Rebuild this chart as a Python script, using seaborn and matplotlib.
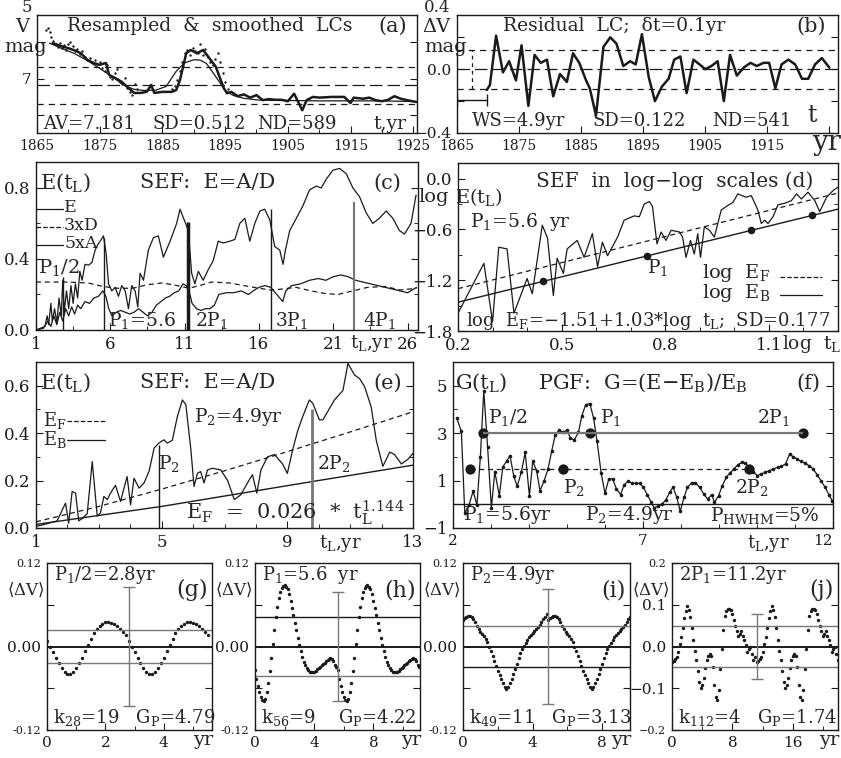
import numpy as np
import pandas as pd
import seaborn as sns
import matplotlib.pyplot as plt

sns.set_theme(style='ticks')
plt.rcParams['font.family'] = ['DejaVu Serif']
plt.rcParams['mathtext.fontset'] = 'dejavuserif'

# ---------------- data ----------------
# (a) resampled (dots), resampled+binned (thick) and smoothed (thin) light curves, V mag
a_dots = [(1866.4, 5.66), (1866.7, 5.60), (1867.0, 5.72), (1867.3, 5.86), (1867.6, 5.95), (1868.0, 6.05),
          (1868.3, 6.12), (1868.6, 6.02), (1869.0, 6.15), (1869.3, 6.08), (1869.7, 6.20), (1870.0, 6.05),
          (1870.3, 5.98), (1870.7, 6.10), (1871.0, 6.25), (1871.4, 6.18), (1871.8, 6.33), (1872.2, 6.25),
          (1872.6, 6.40), (1873.0, 6.48), (1873.4, 6.42), (1873.8, 6.55), (1874.2, 6.50), (1874.6, 6.60),
          (1875.0, 6.55), (1875.4, 6.70), (1875.8, 6.80), (1876.2, 6.62), (1876.6, 6.95), (1877.0, 7.02),
          (1877.4, 6.85), (1877.8, 6.75), (1878.2, 7.10), (1878.6, 7.15), (1879.0, 6.98), (1879.4, 7.25),
          (1879.8, 7.38), (1880.2, 7.45), (1880.6, 7.15), (1881.0, 7.30), (1886.6, 7.30), (1887.0, 7.22),
          (1887.4, 7.05), (1887.8, 6.80), (1888.2, 6.55), (1888.6, 6.30), (1889.0, 6.20), (1889.4, 6.35),
          (1889.8, 6.15), (1890.2, 6.25), (1890.6, 6.30), (1891.0, 6.05), (1891.4, 6.35), (1891.8, 6.18),
          (1892.2, 6.40), (1892.6, 6.55), (1893.0, 6.62), (1893.4, 6.45), (1893.8, 6.30), (1894.2, 6.55),
          (1894.6, 6.85), (1895.0, 7.10), (1895.4, 7.30)]
a_thick = [(1867.5, 6.02), (1869.0, 6.11), (1870.0, 6.16), (1871.0, 6.22), (1872.0, 6.30), (1873.0, 6.48),
           (1874.0, 6.57), (1875.0, 6.62), (1876.0, 6.57), (1876.5, 6.90), (1877.5, 6.99), (1878.5, 7.09),
           (1879.5, 7.25), (1880.5, 7.40), (1881.5, 7.40), (1882.5, 7.37), (1883.2, 7.18), (1883.7, 7.40),
           (1885.0, 7.37), (1886.5, 7.37), (1887.2, 7.32), (1887.8, 7.04), (1888.3, 6.67), (1888.8, 6.30),
           (1889.5, 6.21), (1890.5, 6.30), (1891.5, 6.21), (1892.5, 6.44), (1893.5, 6.67), (1894.3, 7.04),
           (1894.8, 7.27), (1895.3, 7.41), (1896.0, 7.37), (1897.0, 7.49), (1898.0, 7.44), (1899.0, 7.53),
           (1900.0, 7.46), (1901.0, 7.60), (1902.0, 7.57), (1903.0, 7.59), (1904.0, 7.59), (1905.0, 7.63),
           (1906.0, 7.42), (1907.3, 7.88), (1908.0, 7.60), (1909.0, 7.51), (1910.0, 7.53), (1912.0, 7.51),
           (1914.0, 7.51), (1915.0, 7.68), (1915.5, 7.53), (1917.0, 7.56), (1918.0, 7.53), (1919.0, 7.60),
           (1920.0, 7.63), (1921.0, 7.59), (1922.0, 7.49), (1923.0, 7.56), (1924.0, 7.60), (1925.5, 7.65)]
a_smooth = [(1867.0, 6.02), (1869.0, 6.17), (1871.0, 6.31), (1873.0, 6.50), (1875.0, 6.72), (1877.0, 6.95),
            (1879.0, 7.20), (1880.5, 7.30), (1882.0, 7.33), (1884.0, 7.32), (1885.6, 7.22), (1887.2, 6.80),
            (1888.5, 6.57), (1890.0, 6.48), (1891.0, 6.49), (1892.0, 6.58), (1893.0, 6.82), (1894.1, 7.10),
            (1895.0, 7.33), (1896.3, 7.47), (1898.0, 7.55), (1900.5, 7.60), (1910.0, 7.62), (1920.0, 7.62),
            (1925.5, 7.64)]
a_av, a_sd = 7.181, 0.512

# (b) residual light curve
b_res = [(1869.8, -0.13), (1870.3, -0.10), (1871.3, 0.21), (1872.4, -0.02), (1873.4, 0.05), (1874.5, -0.07),
         (1875.4, 0.15), (1876.5, -0.23), (1877.5, 0.09), (1878.5, 0.04), (1879.5, 0.06), (1880.5, -0.17),
         (1881.6, -0.03), (1882.7, -0.08), (1883.7, 0.10), (1884.7, 0.04), (1885.8, -0.07), (1886.4, -0.12),
         (1887.4, -0.29), (1888.6, 0.14), (1889.7, 0.20), (1890.7, 0.16), (1891.8, 0.02), (1892.9, 0.05),
         (1893.8, 0.03), (1894.8, 0.22), (1895.9, -0.05), (1896.9, -0.20), (1898.0, -0.11), (1899.1, -0.06),
         (1900.0, 0.06), (1901.0, 0.08), (1902.0, -0.15), (1903.1, 0.06), (1904.1, 0.03), (1905.0, 0.00),
         (1906.0, 0.02), (1907.0, 0.05), (1908.0, -0.20), (1909.0, 0.09), (1910.1, -0.04), (1911.2, 0.01),
         (1912.3, 0.04), (1913.3, 0.02), (1914.4, 0.04), (1915.3, 0.04), (1916.3, -0.12), (1917.3, 0.03),
         (1918.4, 0.06), (1919.5, 0.03), (1920.6, -0.06), (1921.6, -0.06), (1922.7, 0.03), (1923.8, 0.07),
         (1925.0, 0.01)]
b_sd = 0.122
b_ws = [1865.0, 1869.9]

# (c) SEF components versus lag t_L (yr)
c_E = [(1.0, 0.0), (1.3, 0.01), (1.6, 0.02), (1.75, 0.08), (1.85, 0.03), (2.0, 0.15), (2.1, 0.05), (2.25, 0.12),
       (2.4, 0.04), (2.55, 0.18), (2.7, 0.08), (2.8, 0.28), (2.9, 0.10), (3.05, 0.22), (3.2, 0.12), (3.35, 0.25),
       (3.5, 0.15), (3.65, 0.26), (3.8, 0.18), (3.95, 0.33), (4.1, 0.28), (4.3, 0.37), (4.53, 0.365),
       (4.76, 0.38), (4.98, 0.45), (5.15, 0.48), (5.32, 0.50), (5.54, 0.53), (5.72, 0.43), (5.88, 0.26),
       (6.10, 0.22), (6.32, 0.24), (6.55, 0.19), (6.77, 0.25), (7.0, 0.22), (7.22, 0.12), (7.44, 0.25),
       (7.67, 0.22), (7.85, 0.13), (8.0, 0.32), (8.23, 0.28), (8.56, 0.45), (8.9, 0.52), (9.23, 0.53),
       (9.57, 0.41), (10.02, 0.50), (10.46, 0.60), (10.69, 0.68), (11.02, 0.61), (11.25, 0.56), (11.47, 0.32),
       (11.69, 0.26), (11.92, 0.33), (12.25, 0.28), (12.59, 0.34), (12.92, 0.39), (13.26, 0.50), (13.6, 0.49),
       (14.04, 0.50), (14.38, 0.51), (14.71, 0.60), (15.05, 0.63), (15.38, 0.50), (15.72, 0.60), (16.06, 0.67),
       (16.39, 0.68), (16.73, 0.62), (17.06, 0.47), (17.4, 0.45), (17.62, 0.37), (17.78, 0.45), (18.07, 0.56),
       (18.52, 0.63), (18.96, 0.70), (19.41, 0.79), (19.86, 0.81), (20.19, 0.80), (20.53, 0.85), (20.98, 0.90),
       (21.43, 0.91), (21.87, 0.88), (22.32, 0.80), (22.77, 0.75), (23.21, 0.66), (23.66, 0.60), (24.11, 0.63),
       (24.56, 0.67), (25.0, 0.63), (25.45, 0.56), (25.79, 0.54), (26.23, 0.60), (26.57, 0.76)]
c_5A = [(1.0, 0.0), (1.5, 0.01), (1.8, 0.05), (2.0, 0.02), (2.2, 0.08), (2.4, 0.03), (2.6, 0.10), (2.8, 0.05),
        (3.0, 0.12), (3.2, 0.08), (3.4, 0.13), (3.6, 0.09), (3.8, 0.14), (4.0, 0.12), (4.3, 0.16), (4.6, 0.15),
        (4.9, 0.18), (5.2, 0.19), (5.5, 0.22), (5.7, 0.19), (5.9, 0.12), (6.1, 0.08), (6.4, 0.10), (6.7, 0.11),
        (7.0, 0.10), (7.3, 0.09), (7.6, 0.10), (7.9, 0.12), (8.2, 0.10), (8.5, 0.08), (8.8, 0.10), (9.1, 0.14),
        (9.4, 0.16), (9.7, 0.18), (10.0, 0.19), (10.3, 0.21), (10.6, 0.22), (10.9, 0.26), (11.1, 0.25),
        (11.3, 0.22), (11.5, 0.15), (11.8, 0.12), (12.1, 0.11), (12.4, 0.12), (12.7, 0.12), (13.0, 0.14),
        (13.3, 0.20), (13.8, 0.21), (14.3, 0.21), (14.8, 0.22), (15.3, 0.20), (15.6, 0.22), (16.0, 0.24),
        (16.4, 0.25), (16.8, 0.24), (17.2, 0.20), (17.6, 0.16), (17.8, 0.22), (18.2, 0.25), (18.8, 0.26),
        (19.4, 0.28), (20.0, 0.29), (20.5, 0.28), (21.0, 0.30), (21.5, 0.31), (22.0, 0.30), (22.5, 0.28),
        (23.0, 0.27), (23.5, 0.26), (24.0, 0.25), (24.5, 0.24), (25.0, 0.23), (25.5, 0.22), (26.0, 0.21),
        (26.6, 0.24)]
c_3D = [(1.0, 0.27), (3.0, 0.27), (4.5, 0.265), (5.5, 0.245), (6.5, 0.235), (7.5, 0.235), (8.5, 0.255),
        (9.5, 0.265), (10.5, 0.25), (11.3, 0.235), (12.0, 0.25), (12.8, 0.27), (14.0, 0.265), (15.0, 0.25),
        (16.0, 0.235), (16.8, 0.225), (17.5, 0.23), (18.5, 0.24), (19.5, 0.22), (20.5, 0.205), (21.3, 0.20),
        (22.3, 0.22), (23.3, 0.24), (24.5, 0.245), (25.5, 0.225), (26.6, 0.235)]
c_marks = [2.8, 5.6, 11.2, 16.8, 22.4]
c_mark_top = [0.30, 0.52, 0.61, 0.68, 0.72]

# (d) SEF in log-log scales
d_logE = [(0.2, -1.59), (0.275, -1.0), (0.30, -1.69), (0.318, -0.81), (0.342, -0.83), (0.362, -1.59),
          (0.40, -1.18), (0.415, -1.36), (0.444, -0.55), (0.459, -0.70), (0.476, -1.38), (0.487, -0.94),
          (0.505, -1.12), (0.516, -0.83), (0.545, -0.73), (0.565, -0.93), (0.589, -0.65), (0.604, -1.04),
          (0.618, -0.75), (0.633, -0.91), (0.662, -0.69), (0.681, -0.49), (0.71, -0.44), (0.725, -0.45),
          (0.739, -0.30), (0.754, -0.27), (0.763, -0.33), (0.776, -0.77), (0.788, -0.63), (0.802, -0.73),
          (0.817, -0.61), (0.841, -0.63), (0.85, -0.69), (0.86, -0.93), (0.873, -0.73), (0.884, -0.89),
          (0.894, -0.65), (0.902, -0.93), (0.913, -0.57), (0.928, -0.61), (0.942, -0.69), (0.962, -0.37),
          (0.976, -0.33), (0.996, -0.28), (1.010, -0.18), (1.034, -0.22), (1.049, -0.20), (1.068, -0.37),
          (1.078, -0.53), (1.088, -0.49), (1.097, -0.53), (1.112, -0.45), (1.126, -0.31), (1.146, -0.29),
          (1.165, -0.26), (1.18, -0.18), (1.194, -0.24), (1.213, -0.16), (1.233, -0.26), (1.247, -0.39),
          (1.267, -0.22), (1.286, -0.14), (1.30, -0.10)]
d_EF = [(0.2, -1.30), (1.3, -0.17)]
d_EB = [(0.2, -1.46), (1.3, -0.36)]
d_dots = [(0.447, -1.21), (0.748, -0.91), (1.049, -0.61), (1.225, -0.43)]

# (e) SEF with fitted (E_F) and base (E_B) lines
e_E = [(1.0, 0.007), (1.24, 0.014), (1.67, 0.03), (1.94, 0.105), (2.04, 0.02), (2.15, 0.154), (2.26, 0.147),
       (2.36, 0.03), (2.47, 0.04), (2.63, 0.06), (2.79, 0.28), (2.95, 0.05), (3.05, 0.063), (3.16, 0.133),
       (3.27, 0.12), (3.37, 0.147), (3.53, 0.18), (3.69, 0.112), (3.9, 0.217), (4.01, 0.098), (4.12, 0.21),
       (4.28, 0.168), (4.44, 0.19), (4.6, 0.24), (4.76, 0.337), (4.91, 0.358), (5.07, 0.372), (5.18, 0.358),
       (5.34, 0.37), (5.5, 0.47), (5.66, 0.54), (5.77, 0.52), (5.93, 0.33), (6.03, 0.175), (6.14, 0.231),
       (6.24, 0.238), (6.35, 0.19), (6.46, 0.245), (6.62, 0.252), (6.88, 0.245), (7.1, 0.2), (7.31, 0.12),
       (7.52, 0.14), (7.73, 0.19), (7.89, 0.225), (8.03, 0.147), (8.16, 0.245), (8.37, 0.30), (8.59, 0.31),
       (8.85, 0.27), (9.0, 0.23), (9.17, 0.33), (9.33, 0.41), (9.49, 0.47), (9.7, 0.54), (9.81, 0.526),
       (10.02, 0.456), (10.13, 0.456), (10.5, 0.54), (10.77, 0.58), (10.93, 0.694), (11.14, 0.645),
       (11.3, 0.63), (11.46, 0.596), (11.67, 0.51), (11.83, 0.37), (12.04, 0.26), (12.26, 0.32), (12.41, 0.31),
       (12.63, 0.27), (12.84, 0.29), (13.0, 0.315)]
e_EF = [(1, 0.026), (3, 0.091), (5, 0.164), (7, 0.241), (9, 0.322), (11, 0.405), (13, 0.490)]
e_EB = [(1, 0.015), (5, 0.091), (9.8, 0.196), (13, 0.265)]
e_marks = [4.9, 9.8]
e_mark_top = [0.35, 0.50]

# (f) PGF
f_G = [(2.1, 3.63), (2.22, 3.07), (2.31, -0.38), (2.42, -0.03), (2.53, 0.55), (2.63, -0.03), (2.72, 2.0),
       (2.81, 4.78), (2.91, 2.43), (3.01, -0.17), (3.1, 1.37), (3.22, 0.36), (3.31, 1.58), (3.41, 1.81),
       (3.5, 2.05), (3.6, 1.18), (3.69, 0.76), (3.8, 1.37), (3.9, 2.19), (4.01, 0.36), (4.1, 1.81), (4.2, 1.42),
       (4.29, 0.57), (4.4, 1.0), (4.5, 1.49), (4.6, 2.26), (4.69, 2.92), (4.79, 3.14), (4.89, 3.03),
       (5.0, 3.13), (5.09, 2.79), (5.19, 2.71), (5.3, 3.03), (5.39, 3.73), (5.49, 4.19), (5.6, 4.25),
       (5.7, 3.63), (5.79, 2.68), (5.9, 1.3), (6.0, 0.46), (6.1, 1.07), (6.2, 1.07), (6.3, 0.65), (6.41, 0.41),
       (6.5, 0.81), (6.6, 0.97), (6.71, 0.9), (6.81, 0.88), (6.91, 0.88), (7.01, 0.72), (7.11, 0.41),
       (7.22, 0.08), (7.29, -0.15), (7.4, -0.08), (7.5, 0.01), (7.6, 0.18), (7.7, 0.5), (7.79, 0.72),
       (7.89, 0.29), (7.98, -0.29), (8.08, 0.29), (8.17, 0.72), (8.28, 0.9), (8.38, 0.9), (8.49, 0.72),
       (8.6, 0.43), (8.7, 0.22), (8.81, 0.41), (8.88, 0.08), (8.99, 0.36), (9.08, 0.76), (9.19, 1.14),
       (9.28, 1.3), (9.39, 1.49), (9.5, 1.67), (9.6, 1.77), (9.69, 1.72), (9.8, 1.58), (9.9, 1.37),
       (10.01, 1.21), (10.11, 1.28), (10.22, 1.35), (10.32, 1.42), (10.43, 1.49), (10.54, 1.56), (10.64, 1.6),
       (10.75, 1.7), (10.86, 2.12), (10.95, 2.0), (11.06, 1.91), (11.15, 1.81), (11.26, 1.74), (11.37, 1.63),
       (11.48, 1.49), (11.58, 1.25), (11.68, 1.0), (11.79, 0.72), (11.89, 0.41), (11.98, 0.15)]
f_P1_set = [2.8, 5.6, 11.2]
f_P2_set = [2.45, 4.9, 9.8]
f_P1_level, f_P2_level = 3.0, 1.5

# (g)-(j) mean phase curves <dV> (one period each, drawn twice)
g_period, g_step = 2.8, 0.1
g_dv = [0.008, 0.000, -0.008, -0.016, -0.024, -0.031, -0.036, -0.039, -0.039, -0.036, -0.031, -0.024,
        -0.016, -0.007, 0.002, 0.011, 0.019, 0.025, 0.030, 0.033, 0.035, 0.035, 0.034, 0.032, 0.029, 0.025,
        0.021, 0.016]
g_sd, g_err = 0.024, 0.085
h_period, h_step = 5.6, 0.1
h_dv = [-0.034, -0.046, -0.057, -0.066, -0.073, -0.077, -0.078, -0.075, -0.066, -0.052, -0.035, -0.016,
        0.004, 0.024, 0.042, 0.057, 0.069, 0.078, 0.084, 0.087, 0.088, 0.086, 0.082, 0.075, 0.066, 0.056,
        0.045, 0.034, 0.023, 0.012, 0.002, -0.007, -0.015, -0.022, -0.027, -0.031, -0.034, -0.036, -0.037,
        -0.037, -0.036, -0.035, -0.033, -0.031, -0.029, -0.027, -0.025, -0.023, -0.021, -0.019, -0.018,
        -0.017, -0.018, -0.021, -0.026, -0.030]
h_sd, h_err = 0.042, 0.078
i_period, i_step = 4.9, 0.1
i_dv = [0.038, 0.041, 0.043, 0.044, 0.044, 0.043, 0.040, 0.035, 0.030, 0.025, 0.021, 0.018, 0.015, 0.011,
        0.006, 0.000, -0.007, -0.014, -0.021, -0.028, -0.035, -0.041, -0.047, -0.053, -0.058, -0.061,
        -0.058, -0.053, -0.047, -0.040, -0.033, -0.025, -0.017, -0.010, -0.004, 0.001, 0.005, 0.009, 0.013,
        0.016, 0.019, 0.022, 0.025, 0.028, 0.031, 0.035, 0.039, 0.043, 0.046]
i_sd, i_err = 0.030, 0.083
j_period, j_step = 11.2, 0.2
j_dv = [-0.036, -0.034, -0.031, -0.026, -0.012, 0.006, 0.022, 0.045, 0.068, 0.085, 0.096, 0.088, 0.070,
        0.045, 0.016, -0.010, -0.032, -0.058, -0.085, -0.100, -0.092, -0.076, -0.052, -0.033, -0.022, -0.018,
        -0.022, -0.050, -0.092, -0.120, -0.128, -0.105, -0.055, -0.005, 0.040, 0.072, 0.084, 0.090, 0.091,
        0.088, 0.078, 0.064, 0.050, 0.038, 0.026, 0.030, 0.038, 0.026, 0.015, 0.004, -0.012, -0.005, 0.000,
        -0.018, -0.032, -0.024]
j_sd, j_err = 0.048, 0.078

# ---------------- figure ----------------
W, H = 841, 758
fig = plt.figure(figsize=(W / 100, H / 100), dpi=100)
GRAY = '#777777'
MINUS = '\u2212'


def box(l, t, r, b):
    return fig.add_axes([l / W, 1 - b / H, (r - l) / W, (b - t) / H])


def ptext(x, y, s, size=14, ha='left', va='center', **kw):
    fig.text(x / W, 1 - y / H, s, fontsize=size, ha=ha, va=va, **kw)


def pline(x0, x1, y, ls='-'):
    fig.add_artist(plt.Line2D([x0 / W, x1 / W], [1 - y / H] * 2, color='k', lw=0.9, ls=ls))


def frame(ax, lsize=11):
    ax.tick_params(which='major', direction='in', right=True, length=5, width=0.8,
                   labelsize=lsize, pad=4, colors='k')
    ax.tick_params(which='minor', direction='in', right=True, length=3, width=0.7)
    for sp in ax.spines.values():
        sp.set_linewidth(1.0)
        sp.set_color('k')
    ax.set_xlabel('')
    ax.set_ylabel('')


def line(ax, pts, **kw):
    x, y = zip(*pts)
    kw.setdefault('color', 'k')
    sns.lineplot(x=list(x), y=list(y), ax=ax, estimator=None, sort=False, **kw)


def dots(ax, pts, s=4, **kw):
    x, y = zip(*pts)
    kw.setdefault('color', 'k')
    sns.scatterplot(x=list(x), y=list(y), ax=ax, s=s, linewidth=0, **kw)


# ---- (a) ----
ax = box(37, 15, 417, 133)
dots(ax, a_dots, s=3)
line(ax, a_thick, linewidth=1.8)
line(ax, a_smooth, linewidth=0.9)
ax.axhline(a_av, color='k', lw=0.9, dashes=(10, 4))
ax.axhline(a_av - a_sd, color='k', lw=0.9, dashes=(5, 4))
ax.axhline(a_av + a_sd, color='k', lw=0.9, dashes=(5, 4))
ax.set_xlim(1865, 1925.6)
ax.set_ylim(8.51, 5.24)
ax.set_xticks(range(1865, 1926, 10))
ax.set_xticks(range(1870, 1926, 10), minor=True)
ax.set_yticks([6, 7, 8])
ax.set_yticklabels(['', '7', ''])
frame(ax)
ax.tick_params(axis='x', labelsize=10)
ptext(27, 8, '5', 12, ha='center')
ptext(22, 27, 'V', 14, ha='center')
ptext(26, 47, 'mag', 14, ha='center')
ptext(210, 26, 'Resampled  &  smoothed  LCs', 13.5, ha='center')
ptext(393, 26, '(a)', 15, ha='center')
ptext(43, 124, 'AV=7.181', 13)
ptext(152, 124, 'SD=0.512', 13)
ptext(257, 124, 'ND=589', 13)
ptext(390, 124, 't,yr', 13.5, ha='center')

# ---- (b) ----
ax = box(457, 15, 838, 133)
line(ax, b_res, linewidth=1.8)
ax.axhline(0, color='k', lw=0.9, dashes=(10, 4))
ax.axhline(b_sd, color='k', lw=0.9, dashes=(5, 4))
ax.axhline(-b_sd, color='k', lw=0.9, dashes=(5, 4))
ax.vlines(1867.4, -b_sd, b_sd, color='k', lw=0.9, linestyles=(0, (3, 3)))
ax.errorbar([sum(b_ws) / 2], [-0.19], xerr=[(b_ws[1] - b_ws[0]) / 2], color='k', lw=1.0, capsize=4)
ax.set_xlim(1865, 1926.4)
ax.set_ylim(-0.4, 0.34)
ax.set_xticks(range(1865, 1926, 10))
ax.set_xticklabels(['1865', '1875', '1885', '1895', '1905', '1915', ''])
ax.set_yticks([-0.4, -0.2, 0, 0.2])
ax.set_yticklabels([MINUS + '0.4', '', '0.0', ''])
frame(ax)
ax.tick_params(axis='x', labelsize=10)
ptext(437, 8, '0.4', 12, ha='center')
ptext(436, 27, '\u0394V', 14, ha='center')
ptext(446, 47, 'mag', 14, ha='center')
ptext(614, 26, 'Residual  LC;  \u03b4t=0.1yr', 13.5, ha='center')
ptext(811, 26, '(b)', 15, ha='center')
ptext(472, 121, 'WS=4.9yr', 13)
ptext(593, 121, 'SD=0.122', 13)
ptext(712, 121, 'ND=541', 13)
ptext(812, 116, 't', 17, ha='center')
ptext(827, 142, 'yr', 20, ha='center')

# ---- (c) ----
ax = box(36, 162, 418, 330)
line(ax, c_E, linewidth=0.9)
line(ax, c_5A, linewidth=0.9)
line(ax, c_3D, linewidth=0.9, linestyle=(0, (4, 3)))
lw_marks = [1.0, 1.0, 2.5, 1.0, 1.5]
col_marks = ['k', 'k', 'k', 'k', GRAY]
for xm, top, lw, cm in zip(c_marks, c_mark_top, lw_marks, col_marks):
    ax.vlines(xm, 0, top, color=cm, lw=lw)
ax.set_xlim(1, 26.7)
ax.set_ylim(0, 0.946)
ax.set_xticks([1, 6, 11, 16, 21, 26])
ax.set_xticks([3.5, 8.5, 13.5, 18.5, 23.5], minor=True)
ax.set_yticks([0, 0.4, 0.8])
ax.set_yticks([0.2, 0.6], minor=True)
ax.set_yticklabels(['0.0', '0.4', '0.8'])
frame(ax, 12)
for yy, lab, ls in [(209, 'E', '-'), (227, '3xD', '--'), (245, '5xA', '-')]:
    pline(36, 63, yy, ls)
    ptext(64, yy - 1, lab, 12.5)
ptext(40, 183, r'E(t$_\mathrm{L}$)', 15)
ptext(208, 183, 'SEF:  E=A/D', 15, ha='center')
ptext(387, 183, '(c)', 15, ha='center')
ptext(38, 268, r'P$_1$/2', 14)
ptext(108, 321, r'P$_1$=5.6', 13.5)
ptext(195, 321, r'2P$_1$', 13.5)
ptext(275, 321, r'3P$_1$', 13.5)
ptext(363, 321, r'4P$_1$', 13.5)
ptext(371, 344, r't$_\mathrm{L}$,yr', 13, ha='center')

# ---- (d) ----
ax = box(458, 163, 838, 331)
line(ax, d_logE, linewidth=0.9)
line(ax, d_EF, linewidth=0.9, linestyle=(0, (4, 3)))
line(ax, d_EB, linewidth=1.0)
dots(ax, d_dots, s=30)
ax.set_xlim(0.2, 1.3)
ax.set_ylim(-1.8, 0.185)
ax.set_xticks([0.2, 0.5, 0.8, 1.1])
ax.set_xticks(np.arange(0.3, 1.3, 0.1), minor=True)
ax.set_yticks([0, -0.6, -1.2, -1.8])
ax.set_yticks([-0.3, -0.9, -1.5], minor=True)
ax.set_yticklabels(['0.0', MINUS + '0.6', MINUS + '1.2', MINUS + '1.8'])
frame(ax, 12)
ptext(434, 197, 'log', 14, ha='center')
ptext(455, 197, r'E(t$_\mathrm{L}$)', 14)
ptext(675, 181, 'SEF  in  log' + MINUS + 'log  scales (d)', 14.5, ha='center')
ptext(470, 222, r'P$_1$=5.6  yr', 13.5)
ptext(647, 268, r'P$_1$', 13.5)
ptext(702, 273, r'log  E$_\mathrm{F}$', 14)
ptext(702, 293, r'log  E$_\mathrm{B}$', 14)
pline(780, 822, 277, '--')
pline(780, 822, 295)
ptext(648, 321, r'log  E$_\mathrm{F}$=' + MINUS + r'1.51+1.03*log  t$_\mathrm{L}$;  SD=0.177', 13, ha='center')
ptext(812, 344, r'log  t$_\mathrm{L}$', 13.5, ha='center')

# ---- (e) ----
ax = box(36, 362, 413, 528)
line(ax, e_E, linewidth=0.9)
line(ax, e_EF, linewidth=0.9, linestyle=(0, (4, 3)))
line(ax, e_EB, linewidth=1.0)
ax.vlines(e_marks[0], 0, e_mark_top[0], color='k', lw=1.0)
ax.vlines(e_marks[1], 0, e_mark_top[1], color=GRAY, lw=2.0)
ax.set_xlim(1, 13)
ax.set_ylim(0, 0.70)
ax.set_xticks([1, 5, 9, 13])
ax.set_xticks(range(2, 13), minor=True)
ax.set_yticks([0, 0.2, 0.4, 0.6])
ax.set_yticks([0.1, 0.3, 0.5], minor=True)
ax.set_yticklabels(['0.0', '0.2', '0.4', '0.6'])
frame(ax, 12)
ptext(40, 383, r'E(t$_\mathrm{L}$)', 15)
ptext(208, 383, 'SEF:  E=A/D', 15, ha='center')
ptext(388, 383, '(e)', 15, ha='center')
ptext(43, 420, r'E$_\mathrm{F}$', 13)
ptext(43, 439, r'E$_\mathrm{B}$', 13)
pline(67, 105, 421, '--')
pline(67, 105, 440)
ptext(238, 417, r'P$_2$=4.9yr', 13.5, ha='center')
ptext(158, 463, r'P$_2$', 13.5)
ptext(317, 463, r'2P$_2$', 13.5)
ptext(295, 513, r'E$_\mathrm{F}$  =  0.026  *  t$_\mathrm{L}^{1.144}$', 15, ha='center')
ptext(340, 544, r't$_\mathrm{L}$,yr', 13, ha='center')

# ---- (f) ----
ax = box(453, 362, 833, 528)
line(ax, f_G, linewidth=0.9, marker='o', markersize=2.6, markeredgewidth=0, markerfacecolor='k')
ax.axhline(0, color='k', lw=1.0)
ax.hlines(f_P1_level, f_P1_set[0], f_P1_set[-1], color=GRAY, lw=1.6)
ax.hlines(f_P2_level, f_P2_set[0], f_P2_set[-1], color='k', lw=0.9, linestyles=(0, (4, 3)))
sns.scatterplot(x=f_P1_set, y=[f_P1_level] * 3, ax=ax, s=55, color='k', linewidth=0)
sns.scatterplot(x=f_P2_set, y=[f_P2_level] * 3, ax=ax, s=55, color='k', linewidth=0)
ax.set_xlim(2, 12.0)
ax.set_ylim(-1, 6.0)
ax.set_xticks([2, 7, 12])
ax.set_xticks(range(3, 12), minor=True)
ax.set_yticks([-1, 1, 3, 5])
ax.set_yticks([0, 2, 4], minor=True)
ax.set_yticklabels([MINUS + '1', '1', '3', '5'])
frame(ax, 12)
ax.tick_params(axis='x', labelsize=11)
ax.get_xticklabels()[-1].set_horizontalalignment('right')
ptext(455, 383, r'G(t$_\mathrm{L}$)', 15)
ptext(643, 383, r'PGF:  G=(E' + MINUS + r'E$_\mathrm{B}$)/E$_\mathrm{B}$', 15, ha='center')
ptext(808, 383, '(f)', 15, ha='center')
ptext(488, 418, r'P$_1$/2', 13.5)
ptext(600, 418, r'P$_1$', 13.5)
ptext(757, 418, r'2P$_1$', 13.5)
ptext(563, 487, r'P$_2$', 13.5)
ptext(735, 487, r'2P$_2$', 13.5)
ptext(463, 515, r'P$_1$=5.6yr', 13.5)
ptext(585, 515, r'P$_2$=4.9yr', 13.5)
ptext(710, 515, r'P$_\mathrm{HWHM}$=5%', 13.5)
ptext(768, 544, r't$_\mathrm{L}$,yr', 13, ha='center')

# ---- (g)-(j) ----
small = [
    ('g', (47, 563, 212, 730), g_period, g_step, g_dv, g_sd, g_err, (0, 5.65), [0, 2, 4], [1, 3, 5], 0.12,
     r'P$_1$/2=2.8yr', r'k$_{28}$=19   G$_\mathrm{P}$=4.79'),
    ('h', (255, 563, 420, 730), h_period, h_step, h_dv, h_sd, h_err, (0, 11.15), [0, 4, 8], [2, 6, 10], 0.12,
     r'P$_1$=5.6  yr', r'k$_{56}$=9    G$_\mathrm{P}$=4.22'),
    ('i', (463, 563, 630, 730), i_period, i_step, i_dv, i_sd, i_err, (0, 9.6), [0, 4, 8], [2, 6], 0.12,
     r'P$_2$=4.9yr', r'k$_{49}$=11   G$_\mathrm{P}$=3.13'),
    ('j', (672, 563, 838, 730), j_period, j_step, j_dv, j_sd, j_err, (0, 22.0), [0, 8, 16], [4, 12, 20], 0.2,
     r'2P$_1$=11.2yr', r'k$_{112}$=4   G$_\mathrm{P}$=1.74'),
]
for tag, (l, t, r, b), per, step, dv, sd, err, xl, xt, xmt, ylim, title, stats in small:
    ax = box(l, t, r, b)
    ph = np.arange(len(dv)) * step
    xx = np.concatenate([ph, ph + per])
    yy = np.concatenate([dv, dv])
    sns.scatterplot(x=xx, y=yy, ax=ax, s=6, color='k', linewidth=0)
    ax.axhline(0, color='k', lw=1.4)
    ax.axhline(sd, color='k' if tag == 'h' else GRAY, lw=1.0)
    ax.axhline(-sd, color=GRAY if tag != 'i' else 'k', lw=1.0)
    ax.errorbar([per], [0], yerr=[err], color=GRAY, lw=1.0, capsize=4)
    ax.set_xlim(*xl)
    ax.set_ylim(-ylim, ylim)
    ax.set_xticks(xt)
    ax.set_xticks(xmt, minor=True)
    if tag == 'j':
        ax.set_yticks([-0.2, -0.1, 0, 0.1, 0.2])
        ax.set_yticklabels([MINUS + '0.2', MINUS + '0.1', '0.0', '0.1', '0.2'])
        small_labels = ('0.2', MINUS + '0.2')
    else:
        ax.set_yticks([-0.12, -0.06, 0, 0.06, 0.12])
        ax.set_yticklabels(['-0.12', '', '0.00', '', '0.12'])
        small_labels = ('0.12', '-0.12')
    frame(ax, 11)
    for lab in ax.get_yticklabels():
        if lab.get_text() in small_labels:
            lab.set_fontsize(8)
    ptext(l + 7, t + 12, title, 13)
    ptext(l - 3, t + 27, r'$\langle\Delta\mathrm{V}\rangle$', 12, ha='right')
    ptext(r - 4, t + 27, '(' + tag + ')', 16, ha='right')
    ptext(l + 6, b - 12, stats, 13)
    ptext(r + 1, b + 10, 'yr', 14, ha='right')

fig.savefig('out.png', dpi=100)
